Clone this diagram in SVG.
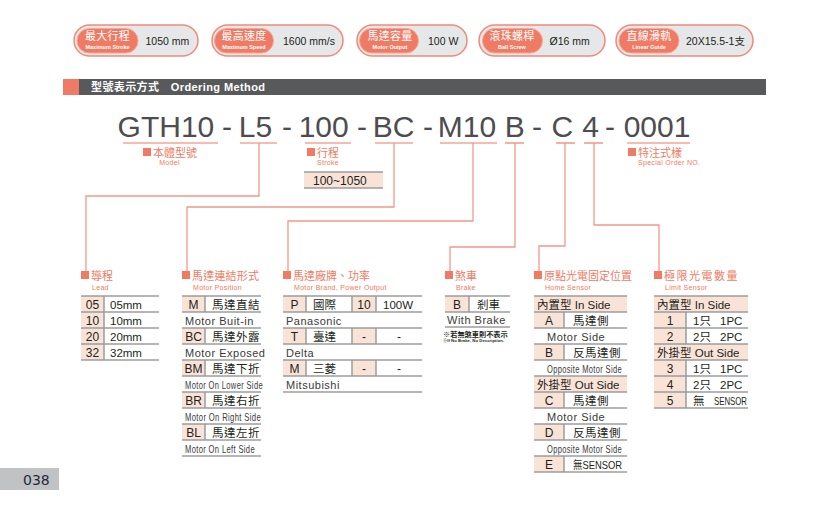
<svg xmlns="http://www.w3.org/2000/svg" width="830" height="508" viewBox="0 0 830 508" font-family="'Liberation Sans','Noto Sans CJK TC',sans-serif">
<style>
.po{fill:#e6e7e8;stroke:#f08a78;stroke-width:1.5}
.pi{fill:#f07b64;stroke:#f6a898;stroke-width:1}
.bt{font-size:11px;fill:#fff;text-anchor:middle;letter-spacing:0.3px}
.bs{font-size:5.5px;font-weight:bold;fill:#fff;text-anchor:middle}
.bv{font-size:10.5px;fill:#231f20}
.code{font-size:30px;fill:#4d4d4f}
.dash{font-size:30px;fill:#4d4d4f;text-anchor:middle}
.ul{stroke:#f07a63;stroke-width:1.2}
.conn{fill:none;stroke:#f4988a;stroke-width:1.3}
.sq{fill:#f07a63}
.hd{font-size:11px;fill:#f07a63}
.en{font-size:7px;fill:#f07a63;letter-spacing:0.3px}
.pe{fill:#f9e3d7}
.tl{stroke:#9d9d9d;stroke-width:1.5}
.tt{font-size:11.5px;fill:#231f20}
.tc{font-size:12px;fill:#231f20;text-anchor:middle}
.td{font-size:11px;fill:#3a3a3a;letter-spacing:0.5px}
</style>

<!-- badges -->
<g id="badge-stroke">
<rect class="po" x="74" y="25" width="124" height="31" rx="15.5"/>
<rect class="pi" x="77" y="28.5" width="61" height="24.5" rx="12.25"/>
<text class="bt" x="107.5" y="40">最大行程</text>
<text class="bs" x="107.5" y="48.5">Maximum Stroke</text>
<text class="bv" x="145.5" y="44.5">1050 mm</text>
</g>
<g id="badge-speed">
<rect class="po" x="212" y="25" width="131" height="31" rx="15.5"/>
<rect class="pi" x="214.5" y="28.5" width="59" height="24.5" rx="12.25"/>
<text class="bt" x="244" y="40">最高速度</text>
<text class="bs" x="244" y="48.5">Maximum Speed</text>
<text class="bv" x="283" y="44.5">1600 mm/s</text>
</g>
<g id="badge-motor">
<rect class="po" x="357" y="25" width="110" height="31" rx="15.5"/>
<rect class="pi" x="359.5" y="28.5" width="59" height="24.5" rx="12.25"/>
<text class="bt" x="390" y="40">馬達容量</text>
<text class="bs" x="390" y="48.5">Motor Output</text>
<text class="bv" x="428" y="44.5">100 W</text>
</g>
<g id="badge-screw">
<rect class="po" x="479" y="25" width="126" height="31" rx="15.5"/>
<rect class="pi" x="482.5" y="28.5" width="60" height="24.5" rx="12.25"/>
<text class="bt" x="512" y="40">滾珠螺桿</text>
<text class="bs" x="512" y="48.5">Ball Screw</text>
<text class="bv" x="549.5" y="44.5">Ø16 mm</text>
</g>
<g id="badge-guide">
<rect class="po" x="616" y="25" width="137" height="31" rx="15.5"/>
<rect class="pi" x="619" y="28.5" width="60" height="24.5" rx="12.25"/>
<text class="bt" x="649" y="40">直線滑軌</text>
<text class="bs" x="649" y="48.5">Linear Guide</text>
<text class="bv" x="686" y="44.5">20X15.5-1支</text>
</g>

<!-- section bar -->
<g id="section-bar">
<rect x="63" y="79" width="16" height="16" fill="#f07a63"/>
<rect x="79" y="79" width="687" height="16" fill="#58595b"/>
<text x="91" y="91" font-size="11" font-weight="bold" fill="#fff" letter-spacing="0.4">型號表示方式　Ordering Method</text>
</g>

<!-- code line -->
<g id="code">
<text class="code" x="117.6" y="137">GTH10</text>
<text class="dash" x="227" y="137">-</text>
<text class="code" x="238.8" y="137">L5</text>
<text class="dash" x="287" y="137">-</text>
<text class="code" x="298.7" y="137">100</text>
<text class="dash" x="362" y="137">-</text>
<text class="code" x="372.8" y="137">BC</text>
<text class="dash" x="428" y="137">-</text>
<text class="code" x="437.8" y="137">M10</text>
<text class="code" x="504.8" y="137">B</text>
<text class="dash" x="537" y="137">-</text>
<text class="code" x="551.5" y="137">C</text>
<text class="code" x="582.2" y="137">4</text>
<text class="dash" x="610" y="137">-</text>
<text class="code" x="623.7" y="137">0001</text>
<line class="ul" x1="123" y1="143" x2="218" y2="143"/>
<line class="ul" x1="240" y1="143" x2="277" y2="143"/>
<line class="ul" x1="305" y1="143" x2="351" y2="143"/>
<line class="ul" x1="375" y1="143" x2="413" y2="143"/>
<line class="ul" x1="440" y1="143" x2="497" y2="143"/>
<line class="ul" x1="505" y1="143" x2="524" y2="143"/>
<line class="ul" x1="556" y1="143" x2="575" y2="143"/>
<line class="ul" x1="584" y1="143" x2="603" y2="143"/>
<line class="ul" x1="627" y1="143" x2="690" y2="143"/>
</g>

<!-- connectors -->
<g id="connectors">
<polyline class="conn" points="259,143 259,196 86,196 86,272"/>
<polyline class="conn" points="394,143 394,207 187,207 187,272"/>
<polyline class="conn" points="473,143 473,221 288,221 288,272"/>
<polyline class="conn" points="515,143 515,247 450,247 450,272"/>
<polyline class="conn" points="565,143 565,246 539,246 539,272"/>
<polyline class="conn" points="594,143 594,225 659,225 659,272"/>
</g>

<!-- top labels -->
<g id="label-model">
<rect class="sq" x="143" y="148" width="8" height="8"/>
<text class="hd" x="153" y="156.5">本體型號</text>
<text class="en" x="169.5" y="164.5" text-anchor="middle">Model</text>
</g>
<g id="label-stroke">
<rect class="sq" x="307" y="148" width="8" height="8"/>
<text class="hd" x="317" y="156.5">行程</text>
<text class="en" x="317" y="164.5">Stroke</text>
<rect class="pe" x="304" y="172" width="79" height="16"/>
<line class="tl" x1="304" y1="172" x2="383" y2="172"/>
<line class="tl" x1="304" y1="188" x2="383" y2="188"/>
<text x="313" y="185" font-size="12" fill="#231f20">100~1050</text>
</g>
<g id="label-special">
<rect class="sq" x="628" y="148" width="8" height="8"/>
<text class="hd" x="638" y="156.5">特注式樣</text>
<text class="en" x="638" y="164.5">Special Order NO.</text>
</g>

<!-- Lead -->
<g id="lead">
<rect class="sq" x="81" y="271" width="8" height="8"/>
<text class="hd" x="91" y="279.5">導程</text>
<text class="en" x="92" y="289.5">Lead</text>
<rect class="pe" x="81" y="296" width="23" height="64"/>
<line class="tl" x1="104" y1="296" x2="104" y2="360"/>
<g class="tl">
<line x1="81" y1="296" x2="159" y2="296"/><line x1="81" y1="312" x2="159" y2="312"/><line x1="81" y1="328" x2="159" y2="328"/><line x1="81" y1="344" x2="159" y2="344"/><line x1="81" y1="360" x2="159" y2="360"/>
</g>
<text class="tc" x="92.5" y="308.5">05</text><text class="tt" x="110" y="308.5">05mm</text>
<text class="tc" x="92.5" y="324.5">10</text><text class="tt" x="110" y="324.5">10mm</text>
<text class="tc" x="92.5" y="340.5">20</text><text class="tt" x="110" y="340.5">20mm</text>
<text class="tc" x="92.5" y="356.5">32</text><text class="tt" x="110" y="356.5">32mm</text>
</g>

<!-- Motor Position -->
<g id="motor-position">
<rect class="sq" x="182" y="271" width="8" height="8"/>
<text class="hd" x="192" y="279.5" letter-spacing="0.2">馬達連結形式</text>
<text class="en" x="193" y="289.5">Motor Position</text>
<g class="pe">
<rect x="182" y="296" width="23" height="16"/><rect x="182" y="328" width="23" height="16"/><rect x="182" y="360" width="23" height="16"/><rect x="182" y="392" width="23" height="16"/><rect x="182" y="424" width="23" height="16"/>
</g>
<g class="tl">
<line x1="205" y1="296" x2="205" y2="312"/><line x1="205" y1="328" x2="205" y2="344"/><line x1="205" y1="360" x2="205" y2="376"/><line x1="205" y1="392" x2="205" y2="408"/><line x1="205" y1="424" x2="205" y2="440"/>
<line x1="182" y1="296" x2="261" y2="296"/><line x1="182" y1="312" x2="261" y2="312"/><line x1="182" y1="328" x2="261" y2="328"/><line x1="182" y1="344" x2="261" y2="344"/><line x1="182" y1="360" x2="261" y2="360"/><line x1="182" y1="376" x2="261" y2="376"/><line x1="182" y1="392" x2="261" y2="392"/><line x1="182" y1="408" x2="261" y2="408"/><line x1="182" y1="424" x2="261" y2="424"/><line x1="182" y1="440" x2="261" y2="440"/><line x1="182" y1="456" x2="261" y2="456"/>
</g>
<text class="tc" x="193.5" y="308.5">M</text><text class="tt" x="212" y="308.5" letter-spacing="0.5">馬達直結</text>
<text class="td" x="185" y="324.5">Motor Buit-in</text>
<text class="tc" x="193.5" y="340.5">BC</text><text class="tt" x="212" y="340.5" letter-spacing="0.5">馬達外露</text>
<text class="td" x="185" y="356.5">Motor Exposed</text>
<text class="tc" x="193.5" y="372.5">BM</text><text class="tt" x="212" y="372.5" letter-spacing="0.5">馬達下折</text>
<text class="td" x="185" y="388.5" textLength="78" lengthAdjust="spacingAndGlyphs">Motor On Lower Side</text>
<text class="tc" x="193.5" y="404.5">BR</text><text class="tt" x="212" y="404.5" letter-spacing="0.5">馬達右折</text>
<text class="td" x="185" y="420.5" textLength="76" lengthAdjust="spacingAndGlyphs">Motor On Right Side</text>
<text class="tc" x="193.5" y="436.5">BL</text><text class="tt" x="212" y="436.5" letter-spacing="0.5">馬達左折</text>
<text class="td" x="185" y="452.5" textLength="70" lengthAdjust="spacingAndGlyphs">Motor On Left Side</text>
</g>

<!-- Motor Brand -->
<g id="motor-brand">
<rect class="sq" x="283" y="271" width="8" height="8"/>
<text class="hd" x="293" y="279.5">馬達廠牌、功率</text>
<text class="en" x="294" y="289.5">Motor Brand, Power Output</text>
<g class="pe">
<rect x="283" y="296" width="23" height="16"/><rect x="352" y="296" width="24" height="16"/>
<rect x="283" y="328" width="23" height="16"/><rect x="352" y="328" width="24" height="16"/>
<rect x="283" y="360" width="23" height="16"/><rect x="352" y="360" width="24" height="16"/>
</g>
<g class="tl">
<line x1="306" y1="296" x2="306" y2="312"/><line x1="352" y1="296" x2="352" y2="312"/><line x1="376" y1="296" x2="376" y2="312"/>
<line x1="306" y1="328" x2="306" y2="344"/><line x1="352" y1="328" x2="352" y2="344"/><line x1="376" y1="328" x2="376" y2="344"/>
<line x1="306" y1="360" x2="306" y2="376"/><line x1="352" y1="360" x2="352" y2="376"/><line x1="376" y1="360" x2="376" y2="376"/>
<line x1="283" y1="296" x2="422" y2="296"/><line x1="283" y1="312" x2="422" y2="312"/><line x1="283" y1="328" x2="422" y2="328"/><line x1="283" y1="344" x2="422" y2="344"/><line x1="283" y1="360" x2="422" y2="360"/><line x1="283" y1="376" x2="422" y2="376"/><line x1="283" y1="392" x2="422" y2="392"/>
</g>
<text class="tc" x="294.5" y="308.5">P</text><text class="tt" x="313" y="308.5">國際</text><text class="tc" x="364" y="308.5">10</text><text class="tt" x="383" y="308.5">100W</text>
<text class="td" x="286" y="324.5" letter-spacing="0.3">Panasonic</text>
<text class="tc" x="294.5" y="340.5">T</text><text class="tt" x="313" y="340.5">臺達</text><text class="tc" x="364" y="340.5">-</text><text class="tc" x="399" y="340.5">-</text>
<text class="td" x="286" y="356.5" letter-spacing="0.3">Delta</text>
<text class="tc" x="294.5" y="372.5">M</text><text class="tt" x="313" y="372.5">三菱</text><text class="tc" x="364" y="372.5">-</text><text class="tc" x="399" y="372.5">-</text>
<text class="td" x="286" y="389" letter-spacing="0.3">Mitsubishi</text>
</g>

<!-- Brake -->
<g id="brake">
<rect class="sq" x="445" y="271" width="8" height="8"/>
<text class="hd" x="455" y="279.5">煞車</text>
<text class="en" x="456" y="289.5">Brake</text>
<rect class="pe" x="445" y="296" width="24" height="16"/>
<g class="tl">
<line x1="469" y1="296" x2="469" y2="312"/>
<line x1="445" y1="296" x2="510" y2="296"/><line x1="445" y1="312" x2="510" y2="312"/><line x1="445" y1="327" x2="510" y2="327"/>
</g>
<text class="tc" x="457" y="308.5">B</text><text class="tt" x="477" y="308.5">剎車</text>
<text class="td" x="447" y="324" letter-spacing="0.3">With Brake</text>
<text x="443" y="336.5" font-size="7.2" font-weight="bold" fill="#231f20">※若無煞車則不表示</text>
<text x="443" y="341.5" font-size="4.3" font-weight="bold" fill="#231f20">※If No Brake, No Description.</text>
</g>

<!-- Home Sensor -->
<g id="home-sensor">
<rect class="sq" x="534" y="271" width="8" height="8"/>
<text class="hd" x="544" y="279.5">原點光電固定位置</text>
<text class="en" x="545" y="289.5">Home Sensor</text>
<g class="pe">
<rect x="534" y="296" width="93" height="16"/>
<rect x="534" y="312" width="30" height="16"/><rect x="534" y="344" width="30" height="16"/>
<rect x="534" y="376" width="93" height="16"/>
<rect x="534" y="392" width="30" height="16"/><rect x="534" y="424" width="30" height="16"/><rect x="534" y="456" width="30" height="16"/>
</g>
<g class="tl">
<line x1="564" y1="312" x2="564" y2="328"/><line x1="564" y1="344" x2="564" y2="360"/><line x1="564" y1="392" x2="564" y2="408"/><line x1="564" y1="424" x2="564" y2="440"/><line x1="564" y1="456" x2="564" y2="472"/>
<line x1="534" y1="296" x2="627" y2="296"/><line x1="534" y1="312" x2="627" y2="312"/><line x1="534" y1="328" x2="627" y2="328"/><line x1="534" y1="344" x2="627" y2="344"/><line x1="534" y1="360" x2="627" y2="360"/><line x1="534" y1="376" x2="627" y2="376"/><line x1="534" y1="392" x2="627" y2="392"/><line x1="534" y1="408" x2="627" y2="408"/><line x1="534" y1="424" x2="627" y2="424"/><line x1="534" y1="440" x2="627" y2="440"/><line x1="534" y1="456" x2="627" y2="456"/><line x1="534" y1="472" x2="627" y2="472"/>
</g>
<text class="tt" x="537" y="308.5">內置型 In Side</text>
<text class="tc" x="549" y="324.5">A</text><text class="tt" x="573" y="324.5" letter-spacing="0.5">馬達側</text>
<text class="td" x="547" y="340.5" letter-spacing="0.6">Motor Side</text>
<text class="tc" x="549" y="356.5">B</text><text class="tt" x="573" y="356.5" letter-spacing="0.5">反馬達側</text>
<text class="td" x="547" y="372.5" textLength="75" lengthAdjust="spacingAndGlyphs">Opposite Motor Side</text>
<text class="tt" x="537" y="388.5">外掛型 Out Side</text>
<text class="tc" x="549" y="404.5">C</text><text class="tt" x="573" y="404.5" letter-spacing="0.5">馬達側</text>
<text class="td" x="547" y="420.5" letter-spacing="0.6">Motor Side</text>
<text class="tc" x="549" y="436.5">D</text><text class="tt" x="573" y="436.5" letter-spacing="0.5">反馬達側</text>
<text class="td" x="547" y="452.5" textLength="75" lengthAdjust="spacingAndGlyphs">Opposite Motor Side</text>
<text class="tc" x="549" y="468.5">E</text><text class="tt" x="573" y="468.5" textLength="49" lengthAdjust="spacingAndGlyphs">無SENSOR</text>
</g>

<!-- Limit Sensor -->
<g id="limit-sensor">
<rect class="sq" x="654" y="271" width="8" height="8"/>
<text class="hd" x="664" y="279.5" letter-spacing="1.5">極限光電數量</text>
<text class="en" x="665" y="289.5">Limit Sensor</text>
<g class="pe">
<rect x="654" y="296" width="94" height="16"/>
<rect x="654" y="312" width="32" height="32"/>
<rect x="654" y="344" width="94" height="16"/>
<rect x="654" y="360" width="32" height="48"/>
</g>
<g class="tl">
<line x1="686" y1="312" x2="686" y2="344"/><line x1="686" y1="360" x2="686" y2="408"/>
<line x1="654" y1="296" x2="748" y2="296"/><line x1="654" y1="312" x2="748" y2="312"/><line x1="654" y1="328" x2="748" y2="328"/><line x1="654" y1="344" x2="748" y2="344"/><line x1="654" y1="360" x2="748" y2="360"/><line x1="654" y1="376" x2="748" y2="376"/><line x1="654" y1="392" x2="748" y2="392"/><line x1="654" y1="408" x2="748" y2="408"/>
</g>
<text class="tt" x="657" y="308.5">內置型 In Side</text>
<text class="tc" x="670" y="324.5">1</text><text class="tt" x="693" y="324.5">1只</text><text class="tt" x="720" y="324.5">1PC</text>
<text class="tc" x="670" y="340.5">2</text><text class="tt" x="693" y="340.5">2只</text><text class="tt" x="720" y="340.5">2PC</text>
<text class="tt" x="657" y="356.5">外掛型 Out Side</text>
<text class="tc" x="670" y="372.5">3</text><text class="tt" x="693" y="372.5">1只</text><text class="tt" x="720" y="372.5">1PC</text>
<text class="tc" x="670" y="388.5">4</text><text class="tt" x="693" y="388.5">2只</text><text class="tt" x="720" y="388.5">2PC</text>
<text class="tc" x="670" y="404.5">5</text><text class="tt" x="693" y="404.5">無</text><text class="tt" x="714" y="404.5" textLength="33" lengthAdjust="spacingAndGlyphs">SENSOR</text>
</g>

<!-- page number -->
<g id="page-number">
<rect x="0" y="468" width="59" height="22" fill="#c1c2c4"/>
<text x="23" y="485" font-family="'DejaVu Sans',sans-serif" font-size="14" fill="#1f2a3a">038</text>
</g>
</svg>
